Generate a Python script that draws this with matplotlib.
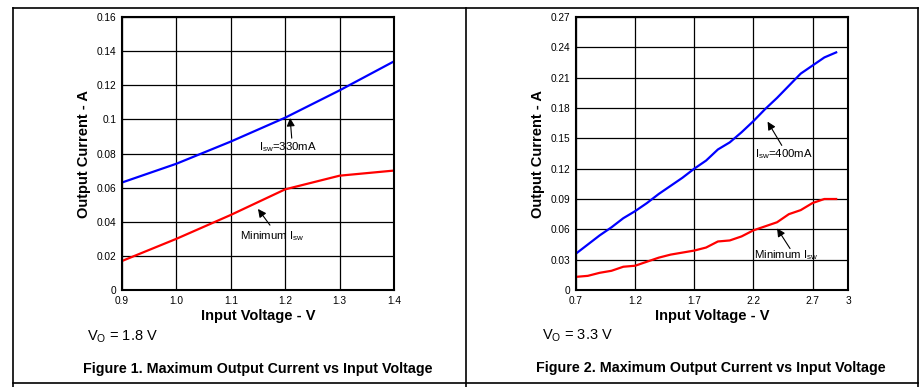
import matplotlib
matplotlib.use('Agg')
import matplotlib.pyplot as plt
from matplotlib.lines import Line2D

plt.rcParams['font.family'] = ['Liberation Sans', 'DejaVu Sans']
plt.rcParams['mathtext.fontset'] = 'custom'
plt.rcParams['mathtext.rm'] = 'Liberation Sans'

# figure 1: Vo = 1.8 V
v1 = [0.9, 1.0, 1.1, 1.2, 1.3, 1.4]
i1_330 = [0.063, 0.074, 0.087, 0.101, 0.117, 0.134]
i1_min = [0.017, 0.030, 0.044, 0.059, 0.067, 0.070]
x1_ticks = [0.9, 1.0, 1.1, 1.2, 1.3, 1.4]
x1_labels = ['0.9', '1.0', '1.1', '1.2', '1.3', '1.4']
y1_ticks = [0, 0.02, 0.04, 0.06, 0.08, 0.10, 0.12, 0.14, 0.16]
y1_labels = ['0', '0.02', '0.04', '0.06', '0.08', '0.1', '0.12', '0.14', '0.16']

# figure 2: Vo = 3.3 V
v2 = [0.7, 0.8, 0.9, 1.0, 1.1, 1.2, 1.3, 1.4, 1.5, 1.6, 1.7, 1.8,
      1.9, 2.0, 2.1, 2.2, 2.3, 2.4, 2.5, 2.6, 2.7, 2.8, 2.9]
i2_400 = [0.036, 0.045, 0.054, 0.062, 0.071, 0.078, 0.086, 0.095, 0.103, 0.111,
          0.120, 0.128, 0.139, 0.146, 0.156, 0.167, 0.179, 0.190, 0.202, 0.214,
          0.222, 0.230, 0.235]
i2_min = [0.013, 0.014, 0.017, 0.019, 0.023, 0.024, 0.028, 0.032, 0.035, 0.037,
          0.039, 0.042, 0.048, 0.049, 0.053, 0.059, 0.063, 0.067, 0.075, 0.079,
          0.086, 0.090, 0.090]
x2_ticks = [0.7, 1.2, 1.7, 2.2, 2.7, 3.0]
x2_labels = ['0.7', '1.2', '1.7', '2.2', '2.7', '3']
y2_ticks = [0, 0.03, 0.06, 0.09, 0.12, 0.15, 0.18, 0.21, 0.24, 0.27]
y2_labels = ['0', '0.03', '0.06', '0.09', '0.12', '0.15', '0.18', '0.21', '0.24', '0.27']

fig = plt.figure(figsize=(9.24, 3.87), dpi=100)

# frame lines like the datasheet table
for xs, ys in [([13/924, 918/924], [1-8/387, 1-8/387]),
               ([13/924, 918/924], [1-383/387, 1-383/387]),
               ([13/924, 13/924], [0, 1-8/387]),
               ([466/924, 466/924], [0, 1-8/387]),
               ([918/924, 918/924], [0, 1-8/387])]:
    fig.add_artist(Line2D(xs, ys, color='black', lw=1.2, transform=fig.transFigure))


def setup(ax, xt, xl, yt, yl):
    ax.set_xlim(xt[0], xt[-1])
    ax.set_ylim(yt[0], yt[-1])
    ax.set_xticks(xt)
    ax.set_xticklabels(xl)
    ax.set_yticks(yt)
    ax.set_yticklabels(yl)
    ax.tick_params(length=0, labelsize=7.3, pad=4)
    ax.grid(True, color='black', lw=0.9)
    for s in ax.spines.values():
        s.set_linewidth(1.5)
    ax.set_xlabel('Input Voltage - V', fontsize=10.5, fontweight='bold')
    ax.set_ylabel('Output Current - A', fontsize=10.5, fontweight='bold')
    ax.xaxis.set_label_coords(0.5, -0.07)
    ax.yaxis.set_label_coords(-0.115, 0.5)


def callout(ax, label, tip, tail, pos):
    ax.annotate('', xy=tip, xytext=tail,
                arrowprops=dict(arrowstyle='-|>', color='black', lw=0.8,
                                mutation_scale=12, shrinkA=0, shrinkB=0))
    ax.text(pos[0], pos[1], label, fontsize=8.2, ha='center', va='center')


ax1 = fig.add_axes([122/924, 1-290/387, 272/924, 273/387])
setup(ax1, x1_ticks, x1_labels, y1_ticks, y1_labels)
ax1.plot(v1, i1_330, color='#0000ff', lw=1.6)
ax1.plot(v1, i1_min, color='#ff0000', lw=1.6)
callout(ax1, r'I$_{\rm sw}$=330mA', (1.209, 0.1008), (1.212, 0.089), (1.205, 0.0838))
callout(ax1, r'Minimum I$_{\rm sw}$', (1.15, 0.0475), (1.172, 0.038), (1.176, 0.0317))

ax2 = fig.add_axes([576/924, 1-290/387, 272/924, 273/387])
setup(ax2, x2_ticks, x2_labels, y2_ticks, y2_labels)
ax2.plot(v2, i2_400, color='#0000ff', lw=1.6)
ax2.plot(v2, i2_min, color='#ff0000', lw=1.6)
callout(ax2, r'I$_{\rm sw}$=400mA', (2.32, 0.1665), (2.44, 0.143), (2.46, 0.1345))
callout(ax2, r'Minimum I$_{\rm sw}$', (2.40, 0.061), (2.51, 0.041), (2.48, 0.0346))

fig.text(87/924, 1-337/387, r'V$_{\rm O}$ = 1.8 V', fontsize=10.5, va='center')
fig.text(542/924, 1-336/387, r'V$_{\rm O}$ = 3.3 V', fontsize=10.5, va='center')
fig.text(258/924, 1-369/387, 'Figure 1. Maximum Output Current vs Input Voltage',
         fontsize=10.3, fontweight='bold', ha='center', va='center')
fig.text(711/924, 1-368/387, 'Figure 2. Maximum Output Current vs Input Voltage',
         fontsize=10.3, fontweight='bold', ha='center', va='center')

fig.savefig('out.png', dpi=100)
